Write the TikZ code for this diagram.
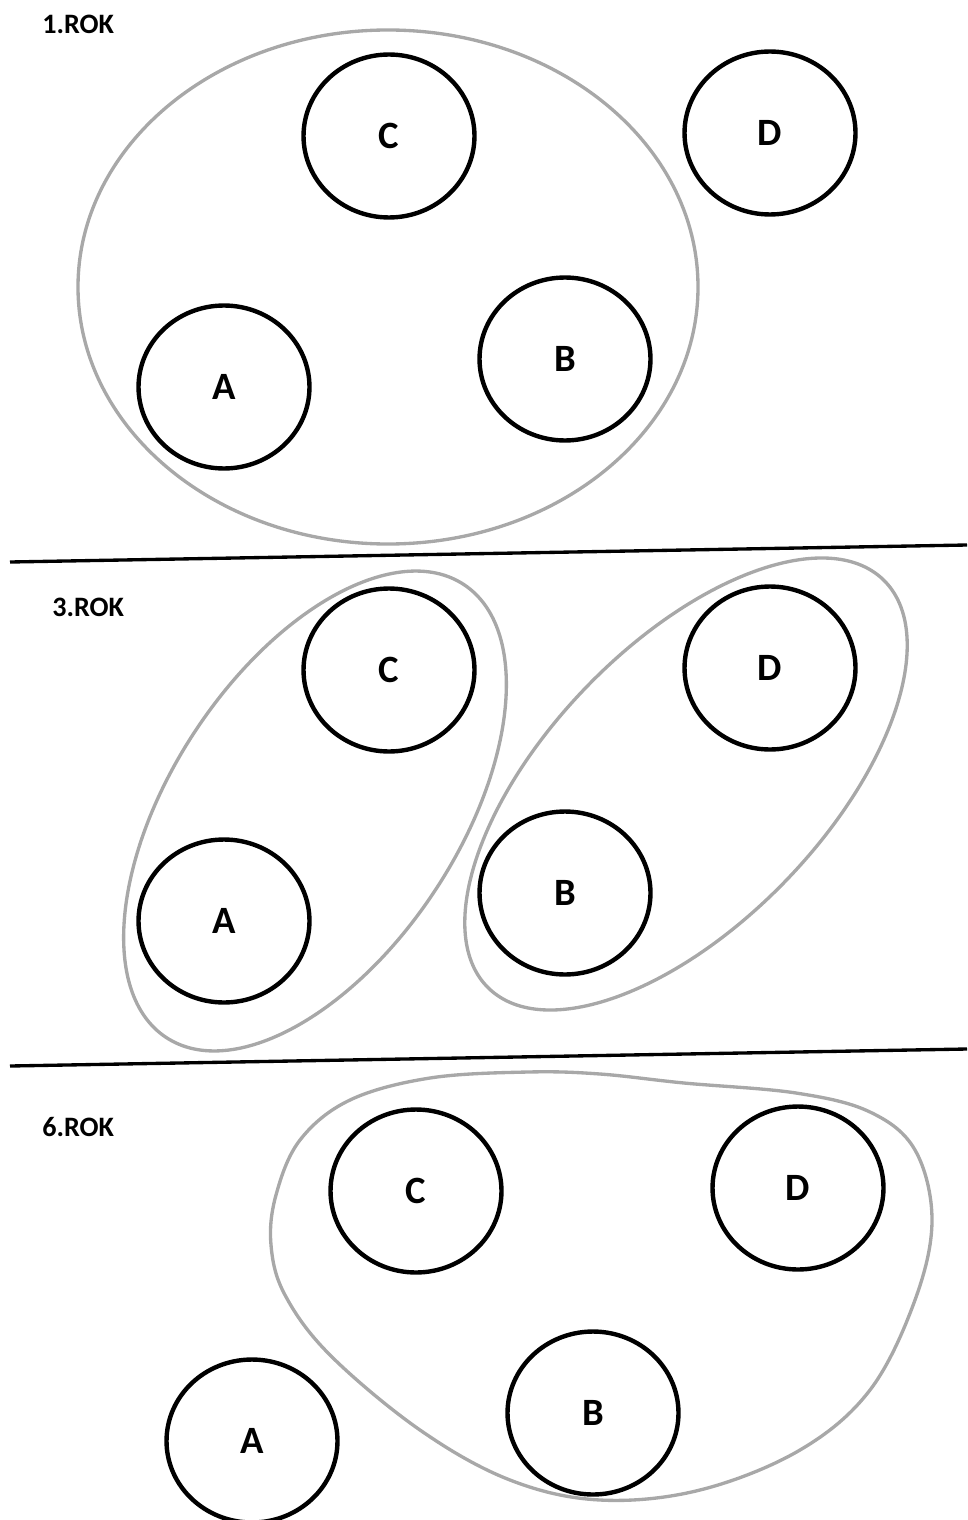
\documentclass[tikz,border=0pt]{standalone}
\usepackage{fontspec}
\setmainfont{Carlito}
\usetikzlibrary{shapes.geometric}
\definecolor{groupgray}{RGB}{168,168,168}
\tikzset{
  member/.style={draw, ellipse, line width=2.5pt, minimum width=3.42cm, minimum height=3.26cm, inner sep=0pt, font=\bfseries\fontsize{22}{22}\selectfont},
  group/.style={draw=groupgray, line width=1.9pt},
  yearlabel/.style={anchor=west, inner sep=0pt, font=\bfseries\fontsize{16}{16}\selectfont},
  divider/.style={line width=1.9pt}
}
\begin{document}
\begin{tikzpicture}[x=0.02cm, y=-0.02cm]
    \useasboundingbox (0,0) rectangle (967,1520);
    % 1. rok
    \node[yearlabel] (rok1) at (42,24) {1.ROK};
    \node[member] (c1) at (389,136) {C};
    \node[member] (d1) at (770,133) {D};
    \node[member] (a1) at (224,387) {A};
    \node[member] (b1) at (565,359) {B};
    \draw[group] (388,287) ellipse [x radius=310, y radius=257];
    \draw[divider] (10,562) -- (967,545);
    % 3. rok
    \node[yearlabel] (rok3) at (52,607) {3.ROK};
    \node[member] (c3) at (389,670) {C};
    \node[member] (d3) at (770,668) {D};
    \node[member] (a3) at (224,921) {A};
    \node[member] (b3) at (565,893) {B};
    \draw[group, rotate around={56.7:(315,811)}] (315,811) ellipse [x radius=271, y radius=144];
    \draw[group, rotate around={46:(686,784)}] (686,784) ellipse [x radius=284, y radius=139];
    \draw[divider] (10,1066) -- (967,1049);
    % 6. rok
    \node[yearlabel] (rok6) at (42,1127) {6.ROK};
    \node[member] (c6) at (416,1191) {C};
    \node[member] (d6) at (798,1188) {D};
    \node[member] (a6) at (252,1441) {A};
    \node[member] (b6) at (593,1413) {B};
    \draw[group] plot[smooth cycle, tension=0.6] coordinates {
      (350,1100) (300,1140) (276,1195) (271,1245) (285,1295) (330,1355)
      (420,1430) (510,1480) (600,1500) (700,1490) (800,1450) (870,1390)
      (915,1300) (932,1220) (915,1150) (870,1112) (796,1093) (684,1083)
      (600,1074) (528,1072) (430,1078)};
\end{tikzpicture}
\end{document}
